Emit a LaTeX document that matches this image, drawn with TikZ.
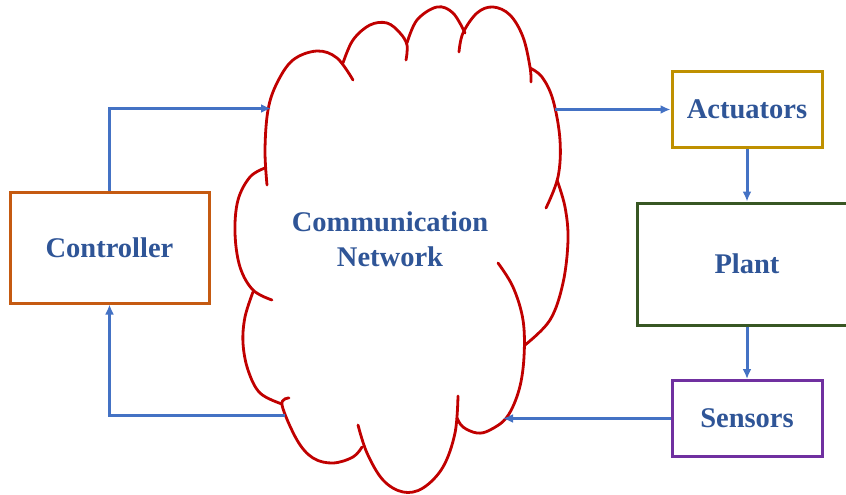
\documentclass[tikz,border=0pt]{standalone}
\usepackage{fontspec}
\setmainfont{Liberation Serif}
\usetikzlibrary{arrows.meta}
\definecolor{txtblue}{HTML}{2F5597}
\definecolor{arrblue}{HTML}{4472C4}
\definecolor{cloudred}{HTML}{C00000}
\definecolor{ctrlorange}{HTML}{C55A11}
\definecolor{actgold}{HTML}{BF9000}
\definecolor{plantgreen}{HTML}{385723}
\definecolor{senspurple}{HTML}{7030A0}
\begin{document}
\begin{tikzpicture}[x=1pt,y=-1pt,
  blockbox/.style={draw, line width=3pt, inner sep=0pt, text=txtblue,
    font=\bfseries\fontsize{28.5}{35}\selectfont, align=center},
  conn/.style={draw=arrblue, line width=3pt, -{Latex[length=10pt,width=9pt]}},
  cloudline/.style={draw=cloudred, line width=2.8pt, line cap=round}]
\useasboundingbox (0,0) rectangle (846,495);
% blocks
\node[blockbox, draw=ctrlorange, minimum width=199pt, minimum height=111pt] (ctrl) at (109.5,247.5) {Controller};
\node[blockbox, draw=actgold, minimum width=150pt, minimum height=76pt] (act) at (747,109.5) {Actuators};
\node[blockbox, draw=plantgreen, minimum width=220pt, minimum height=122pt] (plant) at (747,264) {Plant};
\node[blockbox, draw=senspurple, minimum width=150pt, minimum height=76pt] (sens) at (747,418.5) {Sensors};
% cloud
\draw[cloudline] plot[smooth,tension=0.6] coordinates {(267,185) (265,150) (268,110) (277,83) (293,60) (317,51) (337,58) (353,80)};
\draw[cloudline] plot[smooth,tension=0.6] coordinates {(343,63) (353,40) (370,25) (387,23) (400,33) (407,45) (406,60)};
\draw[cloudline] plot[smooth,tension=0.6] coordinates {(407,43) (417,20) (437,7) (453,13) (465,33)};
\draw[cloudline] plot[smooth,tension=0.6] coordinates {(459,52) (463,33) (477,13) (493,7) (510,15) (523,37) (530,67) (531,82)};
\draw[cloudline] plot[smooth,tension=0.6] coordinates {(530,68) (542,77) (553,100) (560,140) (558,177) (546,208)};
\draw[cloudline] plot[smooth,tension=0.6] coordinates {(557,180) (565,207) (568,240) (563,283) (550,320) (525,345)};
\draw[cloudline] plot[smooth,tension=0.6] coordinates {(498,263) (513,287) (523,320) (524,357) (519,390) (507,417) (490,430) (477,433) (463,427) (457,418)};
\draw[cloudline] plot[smooth,tension=0.6] coordinates {(458,396) (455,433) (443,467) (423,488) (403,492) (383,480) (367,453) (358,425)};
\draw[cloudline] plot[smooth,tension=0.6] coordinates {(362,447) (353,457) (333,463) (313,458) (297,440) (282,405) (289,398)};
\draw[cloudline] plot[smooth,tension=0.6] coordinates {(265,168) (250,177) (238,200) (235,233) (240,267) (253,290) (272,300)};
\draw[cloudline] plot[smooth,tension=0.6] coordinates {(253,292) (245,317) (243,343) (248,370) (260,393) (282,404)};
\node[text=txtblue, font=\bfseries\fontsize{28.5}{35}\selectfont, align=center] (net) at (390,239.5) {Communication\\Network};
% connector ends on the cloud
\coordinate (cin) at (271,108.5);
\coordinate (cout) at (555,109.5);
\coordinate (sin) at (503,418.5);
\coordinate (sout) at (285,415);
% connectors
\draw[conn] (ctrl.north) |- (cin);
\draw[conn] (cout) -- (act.west);
\draw[conn] (act.south) -- (plant.north);
\draw[conn] (plant.south) -- (sens.north);
\draw[conn] (sens.west) -- (sin);
\draw[conn] (sout) -| (ctrl.south);
\end{tikzpicture}
\end{document}
